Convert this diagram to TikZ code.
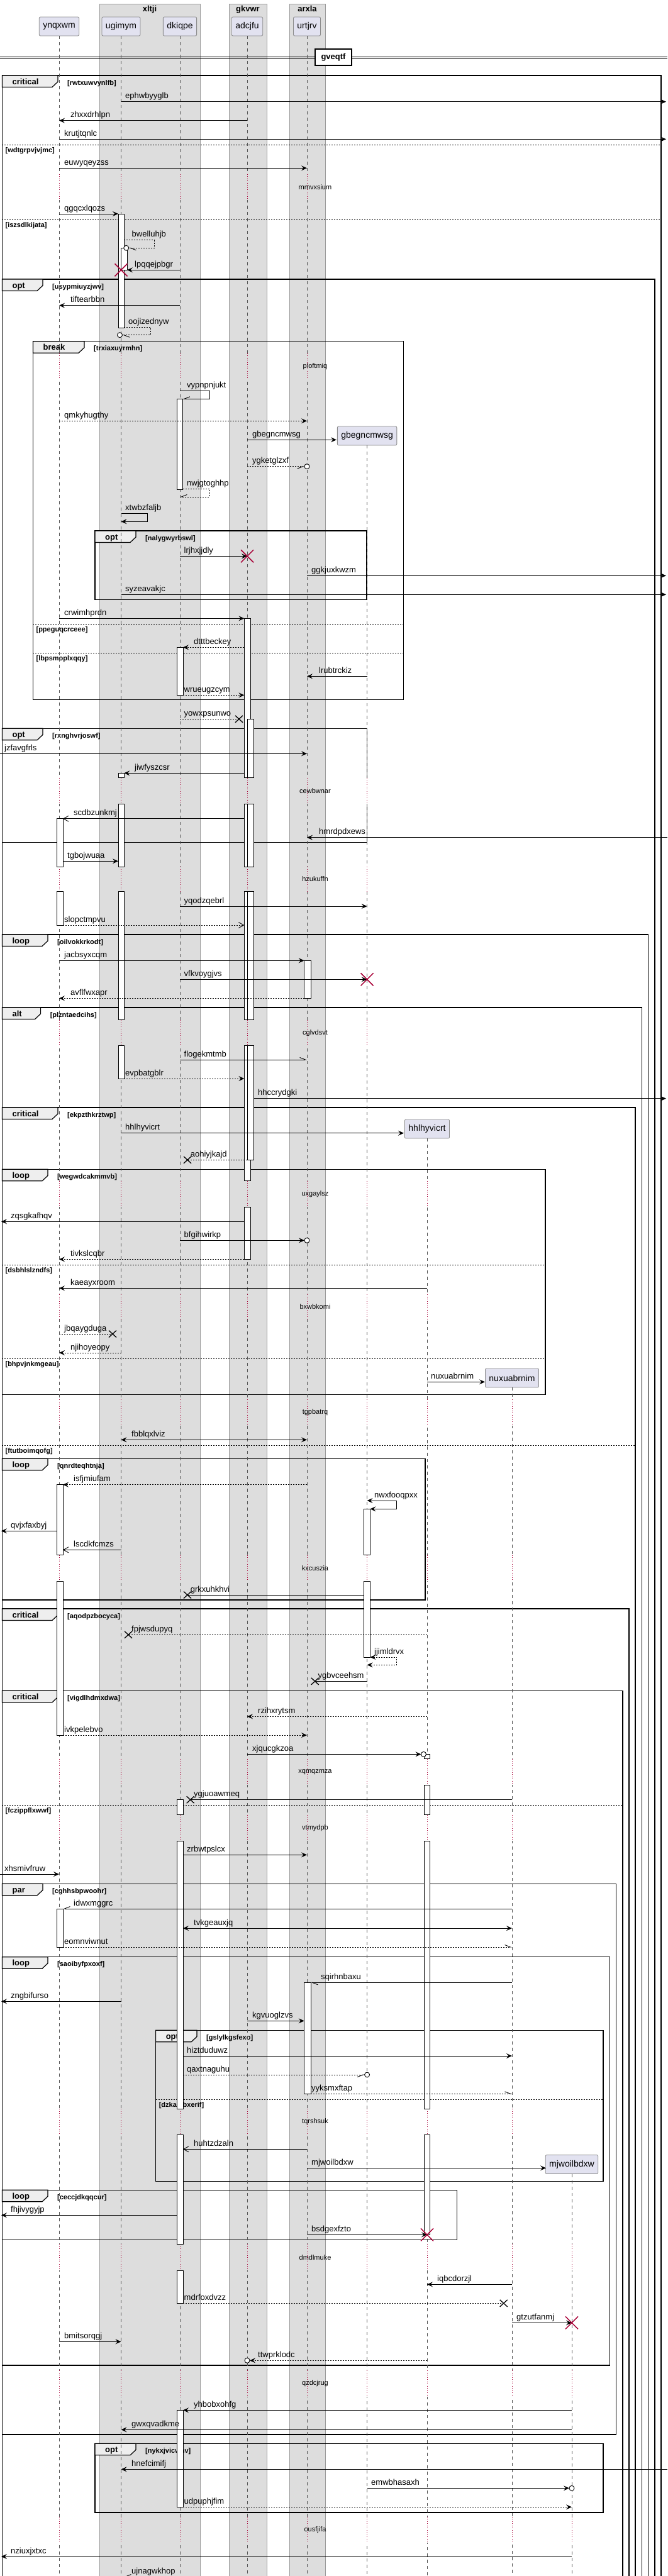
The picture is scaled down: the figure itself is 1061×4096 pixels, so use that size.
\documentclass[tikz,border=0pt]{standalone}
\usepackage{fontspec}
\setmainfont{Liberation Sans}
\usetikzlibrary{arrows.meta}

%Colors
\definecolor{partfill}{HTML}{E2E2F0}
\definecolor{partline}{HTML}{8A8A8A}
\definecolor{boxfill}{HTML}{DDDDDD}
\definecolor{boxline}{HTML}{9A9A9A}
\definecolor{tabfill}{HTML}{EEEEEE}
\definecolor{delayred}{HTML}{A80036}
\definecolor{lifegray}{HTML}{555555}

%Helpers
\newcommand\msg[6][]{\draw[msg,#1] (#2,#4) -- (#3,#4);
  \node[lbl] (l-#6) at (#5,#4) {#6};}
\newcommand\lostx[2]{\draw[lostmark] (#1-6,#2-5.5) -- (#1+6,#2+5.5) (#1-6,#2+5.5) -- (#1+6,#2-5.5);}
\newcommand\destroyx[2]{\draw[destroymark] (#1-10,#2-10) -- (#1+10,#2+10) (#1-10,#2+10) -- (#1+10,#2-10);}
\newcommand\circend[2]{\draw[line width=0.9pt,fill=white] (#1,#2) circle[radius=4pt];}
\newcommand\act[4]{\draw[actbar] (#1,#3) rectangle (#2,#4);}
\newcommand\frm[7]{\draw[frame] (#1,#3) rectangle (#2,#4);
  \draw[tab] (#1,#3) -- (#5,#3) -- (#5,#3+10) -- (#5-9,#3+18.5) -- (#1,#3+18.5) -- cycle;
  \node[tabtext] (t-#7) at (#1+16,#3+14) {#6};
  \node[condtext] (c-#7) at (#5+15,#3+15) {[#7]};}
\newcommand\elsepart[4]{\draw[elseline] (#1,#3) -- (#2,#3);
  \node[condtext] (e-#4) at (#1+5,#3+12.5) {[#4]};}
\newcommand\delay[4]{\foreach \lx/\lc in #4 {\draw[\lc,line width=2.4pt] (\lx,#1) -- (\lx,#2);
    \draw[delayline] (\lx,#1) -- (\lx,#2);}
  \node[delaytext] (d-#3) at (501,{(#1+#2)/2}) {#3};}

\def\llA{94/white,192.5/boxfill,286/boxfill,393/boxfill,488/boxfill}
\def\llB{94/white,192.5/boxfill,286/boxfill,393/boxfill,488/boxfill,583.6/white}
\def\llC{94/white,192.5/boxfill,286/boxfill,393/boxfill,488/boxfill,583.6/white,679/white}
\def\llD{94/white,192.5/boxfill,286/boxfill,393/boxfill,488/boxfill,583.6/white,679/white,814/white}
\def\llE{94/white,192.5/boxfill,286/boxfill,393/boxfill,488/boxfill,583.6/white,679/white,814/white,909/white}

\begin{document}
\begin{tikzpicture}
  [x=1pt,y=-1pt,
  %Styles
  part/.style={draw=partline,line width=0.8pt,fill=partfill,rounded corners=2pt,minimum height=30pt,inner xsep=6pt,font=\fontsize{14}{16}\selectfont},
  grp/.style={draw=boxline,line width=0.6pt,fill=boxfill},
  grptext/.style={anchor=base,inner sep=0pt,font=\bfseries\fontsize{13}{15}\selectfont},
  lifeline/.style={draw=lifegray,dash pattern=on 5pt off 5pt,line width=0.6pt},
  delayline/.style={draw=delayred,dash pattern=on 1pt off 2.5pt,line width=0.8pt},
  delaytext/.style={inner sep=0pt,font=\fontsize{11}{13}\selectfont},
  frame/.style={draw=black,line width=1.5pt},
  tab/.style={draw=black,line width=1.2pt,fill=tabfill},
  tabtext/.style={anchor=base west,inner sep=0pt,font=\bfseries\fontsize{13}{15}\selectfont},
  condtext/.style={anchor=base west,inner sep=0pt,font=\bfseries\fontsize{11}{13}\selectfont},
  elseline/.style={draw=black,line width=1pt,dash pattern=on 2pt off 2pt},
  actbar/.style={draw=black,line width=0.8pt,fill=white},
  lbl/.style={anchor=base west,inner sep=0pt,yshift=5pt,font=\fontsize{13}{15}\selectfont},
  msg/.style={line width=0.9pt,-{Stealth[length=9pt,width=8pt,inset=3.5pt]}},
  ret/.style={dash pattern=on 2pt off 2pt},
  opn/.style={-{Straight Barb[length=8pt,width=9pt]}},
  hl/.style={-{Straight Barb[length=9pt,width=7pt,left]}},
  hr/.style={-{Straight Barb[length=9pt,width=7pt,right]}},
  both/.style={{Stealth[length=9pt,width=8pt,inset=3.5pt]}-{Stealth[length=9pt,width=8pt,inset=3.5pt]}},
  lostmark/.style={draw=black,line width=1.3pt},
  destroymark/.style={draw=delayred,line width=1.5pt}
  ]
  \useasboundingbox (0,0) rectangle (1061,4096);

  %Boxes
  \draw[grp] (158,6) rectangle (318,4110);
  \draw[grp] (364,6) rectangle (424,4110);
  \draw[grp] (460,6) rectangle (517,4110);
  \node[grptext] (g-xltji) at (238,18.5) {xltji};
  \node[grptext] (g-gkvwr) at (394,18.5) {gkvwr};
  \node[grptext] (g-arxla) at (488.5,18.5) {arxla};

  %Divider
  \draw[line width=1pt] (0,90) -- (1061,90) (0,93.3) -- (1061,93.3);
  \node[draw=black,line width=1.5pt,fill=white,minimum width=58pt,minimum height=26pt,inner sep=0pt,font=\bfseries\fontsize{13}{15}\selectfont] (div) at (530,91) {gveqtf};

  %Frames
  \frm{3.4}{1051}{120}{4110}{92}{critical}{rwtxuwvynlfb}
  \elsepart{3.4}{1051}{230.3}{wdtgrpvjvjmc}
  \elsepart{3.4}{1051}{349.3}{iszsdlkijata}
  \frm{3.4}{1041}{444}{4110}{68}{opt}{usypmiuyzjwv}
  \frm{52.4}{641.5}{542.7}{1112.7}{134}{break}{trxiaxuyrmhn}
  \elsepart{52.4}{641.5}{992.3}{ppeguqcrceee}
  \elsepart{52.4}{641.5}{1038.3}{lbpsmoplxqqy}
  \frm{151}{583}{844}{953.3}{216}{opt}{nalygwyrbswl}
  \frm{3.4}{583.6}{1158.3}{1339.3}{68}{opt}{rxnghvrjoswf}
  \frm{3.4}{1030.6}{1486}{4110}{76}{loop}{oilvokkrkodt}
  \frm{3.4}{1020.4}{1602}{4110}{64.6}{alt}{plzntaedcihs}
  \frm{3.4}{1010}{1761}{4110}{92}{critical}{ekpzthkrztwp}
  \elsepart{3.4}{1010}{2298.3}{ftutboimqofg}
  \frm{3.4}{867}{1859.3}{2217.3}{76}{loop}{wegwdcakmmvb}
  \elsepart{3.4}{867}{2011.3}{dsbhlslzndfs}
  \elsepart{3.4}{867}{2160.3}{bhpvjnkmgeau}
  \frm{3.4}{676}{2319.3}{2544}{76}{loop}{qnrdteqhtnja}
  \frm{3.4}{1000}{2558}{4110}{92}{critical}{aqodpzbocyca}
  \frm{3.4}{990}{2688.3}{4110}{92}{critical}{vigdlhdmxdwa}
  \elsepart{3.4}{990}{2870.3}{fczippflxwwf}
  \frm{3.4}{979.6}{2995.3}{3871}{68}{par}{cghhsbpwoohr}
  \frm{3.4}{969.4}{3111.7}{3761}{76}{loop}{saoibyfpxoxf}
  \frm{247.6}{959}{3228.3}{3468.3}{313}{opt}{gslylkgsfexo}
  \elsepart{247.6}{959}{3338.3}{dzkabjbxerif}
  \frm{3.4}{726.5}{3482.3}{3561.7}{76}{loop}{ceccjdkqqcur}
  \frm{151}{959}{3885.3}{3995}{216}{opt}{nykxjvicwhv}

  %Participants
  \node[part] (p-ynqxwm) at (94,42) {ynqxwm};
  \node[part] (p-ugimym) at (192.5,42) {ugimym};
  \node[part] (p-dkiqpe) at (286,42) {dkiqpe};
  \node[part] (p-adcjfu) at (393,42) {adcjfu};
  \node[part] (p-urtjrv) at (488,42) {urtjrv};
  \node[part] (p-gbegncmwsg) at (583.6,693) {gbegncmwsg};
  \node[part] (p-hhlhyvicrt) at (679,1795) {hhlhyvicrt};
  \node[part] (p-nuxuabrnim) at (814,2191) {nuxuabrnim};
  \node[part] (p-mjwoilbdxw) at (909,3441.5) {mjwoilbdxw};
  \foreach \p in {ynqxwm,ugimym,dkiqpe,adcjfu,urtjrv,gbegncmwsg,hhlhyvicrt,nuxuabrnim,mjwoilbdxw}
    \draw[lifeline] (p-\p.south) -- ++(0,4100);

  %Delays
  \delay{276.7}{318.3}{mmvxsium}{\llA}
  \delay{561.7}{603}{ploftmiq}{\llA}
  \delay{1236.7}{1278.3}{cewbwnar}{\llB}
  \delay{1378}{1417.7}{hzukuffn}{\llB}
  \delay{1621.7}{1662.7}{cglvdsvt}{\llB}
  \delay{1877.7}{1919.3}{uxgaylsz}{\llC}
  \delay{2058}{2097.7}{bxwbkomi}{\llC}
  \delay{2225}{2266.7}{tgpbatrq}{\llD}
  \delay{2472.7}{2514.3}{kxcuszia}{\llD}
  \delay{2796.7}{2838.3}{xqmqzmza}{\llD}
  \delay{2885.7}{2927.3}{vtmydpb}{\llD}
  \delay{3353.3}{3394.3}{tqrshsuk}{\llD}
  \delay{3568.3}{3610}{dmdlmuke}{\llE}
  \delay{3769}{3811}{qzdcjrug}{\llE}
  \delay{4001.7}{4043.3}{ousfjifa}{\llE}

  %Activations
  \act{188}{197}{340}{521.7}
  \act{192.5}{202}{394.3}{429.3}
  \act{281}{290.5}{634.3}{778.3}
  \foreach \ya/\yb in {983.3/1236.7,1278.3/1378,1417.7/1621.7,1662.7/1877.7,1919.3/2002.3} {\act{388.4}{398.6}{\ya}{\yb}}
  \foreach \ya/\yb in {1143.3/1236.7,1278.3/1378,1417.7/1621.7,1662.7/1844.3} {\act{393}{403.4}{\ya}{\yb}}
  \act{281}{291}{1029.3}{1105.3}
  \foreach \ya/\yb in {1229.3/1236.7,1278.3/1378,1417.7/1621.7,1662.7/1715} {\act{188}{197.3}{\ya}{\yb}}
  \foreach \ya/\yb in {1301.7/1378,1417.7/1471} {\act{90.5}{100}{\ya}{\yb}}
  \act{483.7}{494}{1527.3}{1587.3}
  \foreach \ya/\yb in {2399.3/2472.7,2514.3/2635} {\act{578}{588.4}{\ya}{\yb}}
  \foreach \ya/\yb in {2360.7/2472.7,2514.3/2759} {\act{90.5}{100}{\ya}{\yb}}
  \foreach \ya/\yb in {2789.3/2796.7,2838.3/2885.7,2927.3/3353.3,3394.3/3553.3} {\act{674}{683.7}{\ya}{\yb}}
  \foreach \ya/\yb in {2861.7/2885.7,2927.3/3353.3,3394.3/3568.3,3610/3662.3} {\act{281}{291}{\ya}{\yb}}
  \act{90.5}{100}{3035}{3096}
  \act{483.7}{494}{3152.3}{3329.3}
  \act{281}{291}{3832.3}{3986.3}

  %Messages
  \msg{192.5}{1059}{161.7}{199}{ephwbyyglb}
  \msg{393}{94}{191.7}{112}{zhxxdrhlpn}
  \msg{94}{1059}{221.3}{102}{krutjtqnlc}
  \msg{94}{488}{267.3}{102}{euwyqeyzss}
  \msg{94}{188}{340}{102}{qgqcxlqozs}
  \draw[msg,ret,hl] (197,381.7) -- (245,381.7) -- (245,394.3) -- (205,394.3);
  \node[lbl] (l-bwelluhjb) at (209.5,381.7) {bwelluhjb};
  \circend{200.7}{394.3}
  \msg{286}{202}{429.3}{214}{lpqqejpbgr}
  \destroyx{192.5}{429.3}
  \msg{286}{94}{485.7}{112}{tiftearbbn}
  \draw[msg,ret,hl] (197,520.3) -- (239.5,520.3) -- (239.5,532.7) -- (194.5,532.7);
  \node[lbl] (l-oojizednyw) at (204,520.3) {oojizednyw};
  \circend{190.5}{532.7}
  \draw[msg,hr] (286,621.7) -- (333,621.7) -- (333,634.3) -- (290.5,634.3);
  \node[lbl] (l-vypnpnjukt) at (297,621.7) {vypnpnjukt};
  \msg[ret]{94}{488}{669.3}{102}{qmkyhugthy}
  \msg{393}{535}{699.3}{401}{gbegncmwsg}
  \msg[ret,hr]{393}{484}{741.7}{401}{ygketglzxf}
  \circend{488}{741.7}
  \draw[msg,ret,hr] (290.5,777.3) -- (333,777.3) -- (333,790) -- (286,790);
  \node[lbl] (l-nwjgtoghhp) at (297,777.3) {nwjgtoghhp};
  \draw[msg] (192.5,816) -- (234.7,816) -- (234.7,829.3) -- (192.5,829.3);
  \node[lbl] (l-xtwbzfaljb) at (199,816) {xtwbzfaljb};
  \msg{286}{393}{884.3}{292.5}{lrjhxjjdly}
  \destroyx{393}{884.3}
  \msg{488}{1059}{915.3}{495}{ggkjuxkwzm}
  \msg{192.5}{1059}{945.3}{199}{syzeavakjc}
  \msg{94}{388.4}{983.3}{102}{crwimhprdn}
  \msg[ret]{388.4}{291}{1029.3}{308}{dtttbeckey}
  \msg{583.6}{488}{1075.3}{507}{lrubtrckiz}
  \msg[ret]{291}{388.4}{1105.3}{292.5}{wrueugzcym}
  \msg[ret,-]{286}{380}{1143.3}{292.5}{yowxpsunwo}
  \lostx{380}{1143.3}
  \msg{0}{488}{1198.3}{7}{jzfavgfrls}
  \msg{388.4}{197.3}{1229.3}{214}{jiwfyszcsr}
  \msg[opn]{388.4}{100}{1301.7}{117}{scdbzunkmj}
  \msg{1061}{488}{1331.7}{507}{hmrdpdxews}
  \msg{100}{188}{1369.3}{107}{tgbojwuaa}
  \msg{286}{583.6}{1441}{292.5}{yqodzqebrl}
  \msg[ret,opn]{100}{388.4}{1471}{102}{slopctmpvu}
  \msg{94}{483.7}{1527.3}{102}{jacbsyxcqm}
  \msg{286}{583.6}{1557.3}{292.5}{vfkvoygjvs}
  \destroyx{583.6}{1557.3}
  \msg[ret]{483.7}{94}{1587.3}{112}{avflfwxapr}
  \msg[hl]{286}{488}{1685}{292.5}{flogekmtmb}
  \msg[ret]{197}{388.4}{1715}{199}{evpbatgblr}
  \msg{403.4}{1059}{1746.7}{410}{hhccrydgki}
  \msg{192.5}{642}{1801.7}{199}{hhlhyvicrt}
  \msg[ret,-]{393}{298}{1844.3}{302.7}{aohiyjkajd}
  \lostx{298}{1844.3}
  \msg{388.4}{2}{1942.3}{17}{zqsgkafhqv}
  \msg{286}{484}{1972.3}{292.5}{bfgihwirkp}
  \circend{488}{1972.3}
  \msg[ret]{388.4}{94}{2002.3}{112}{tivkslcqbr}
  \msg{679}{94}{2048.3}{112}{kaeayxroom}
  \msg[ret,-]{94}{179}{2121}{102}{jbqaygduga}
  \lostx{179}{2121}
  \msg[ret]{192.5}{94}{2151}{112}{njihoyeopy}
  \msg{679}{771}{2197.3}{685}{nuxuabrnim}
  \msg[both]{192.5}{488}{2289.3}{209}{fbblqxlviz}
  \msg[ret]{488}{100}{2360.7}{117}{isfjmiufam}
  \draw[msg,both] (583.6,2386) -- (630.6,2386) -- (630.6,2399.3) -- (588.4,2399.3);
  \node[lbl] (l-nwxfooqpxx) at (595,2386) {nwxfooqpxx};
  \msg{90.5}{2}{2434.3}{17}{qvjxfaxbyj}
  \msg[opn]{192.5}{100}{2464.3}{117}{lscdkfcmzs}
  \msg[-]{578}{298}{2536}{302.7}{grkxuhkhvi}
  \lostx{298}{2536}
  \msg[ret,-]{679}{204}{2599.3}{209}{fpjwsdupyq}
  \lostx{204}{2599.3}
  \draw[msg,ret,both] (588.4,2635) -- (630.6,2635) -- (630.6,2647.3) -- (583.6,2647.3);
  \node[lbl] (l-jjimldrvx) at (595,2635) {jjimldrvx};
  \msg[-]{583.6}{500.7}{2673.3}{505.4}{ygbvceehsm}
  \lostx{500.7}{2673.3}
  \msg[ret]{679}{393}{2729.3}{410}{rzihxrytsm}
  \msg[ret]{100}{488}{2759}{102}{ivkpelebvo}
  \msg{393}{669.5}{2789.3}{401}{xjqucgkzoa}
  \circend{673.5}{2789.3}
  \msg[-]{814}{302.7}{2861.7}{308}{ygjuoawmeq}
  \lostx{302.7}{2861.7}
  \msg{291}{488}{2949.3}{297}{zrbwtpslcx}
  \msg{0}{94}{2980}{7}{xhsmivfruw}
  \msg[hr]{814}{100}{3035}{117}{idwxmggrc}
  \msg[both]{291}{814}{3066}{308}{tvkgeauxjq}
  \msg[ret,hl]{100}{814}{3096}{102}{eomnviwnut}
  \msg[hl]{814}{494}{3152.3}{510}{sqirhnbaxu}
  \msg{192.5}{2}{3182.3}{17}{zngbifurso}
  \msg{393}{483.7}{3213.3}{401}{kgvuoglzvs}
  \msg{291}{814}{3269}{297}{hiztduduwz}
  \msg[ret,hr]{291}{579.6}{3299}{297}{qaxtnaguhu}
  \circend{583.6}{3299}
  \msg[ret,hl]{494}{814}{3329.3}{495}{yyksmxftap}
  \msg[opn]{488}{291}{3417.3}{308}{huhtzdzaln}
  \msg{488}{868}{3447.3}{495}{mjwoilbdxw}
  \msg{281}{2}{3522.3}{17}{fhjivygyjp}
  \msg{488}{679}{3553.3}{495}{bsdgexfzto}
  \destroyx{679}{3553.3}
  \msg{814}{679}{3632.3}{695}{iqbcdorzjl}
  \msg[ret,-]{291}{800.7}{3662.3}{292.5}{mdrfoxdvzz}
  \lostx{800.7}{3662.3}
  \msg{814}{909}{3693.3}{821}{gtzutfanmj}
  \destroyx{909}{3693.3}
  \msg{94}{192.5}{3723.3}{102}{bmitsorqgj}
  \msg[ret]{679}{397}{3753.3}{410}{ttwprklodc}
  \circend{393}{3753.3}
  \msg{909}{291}{3832.3}{308}{yhbobxohfg}
  \msg{909}{192.5}{3863.3}{209}{gwxqvadkme}
  \msg{1061}{192.5}{3926.3}{209}{hnefcimifj}
  \msg{583.6}{905}{3956.3}{590}{emwbhasaxh}
  \circend{909}{3956.3}
  \msg[ret]{291}{909}{3986.3}{292.5}{udpuphjfim}
  \msg{909}{2}{4065}{17}{nziuxjxtxc}
  \msg[hr]{909}{197}{4097}{209}{ujnagwkhop}
\end{tikzpicture}
\end{document}
